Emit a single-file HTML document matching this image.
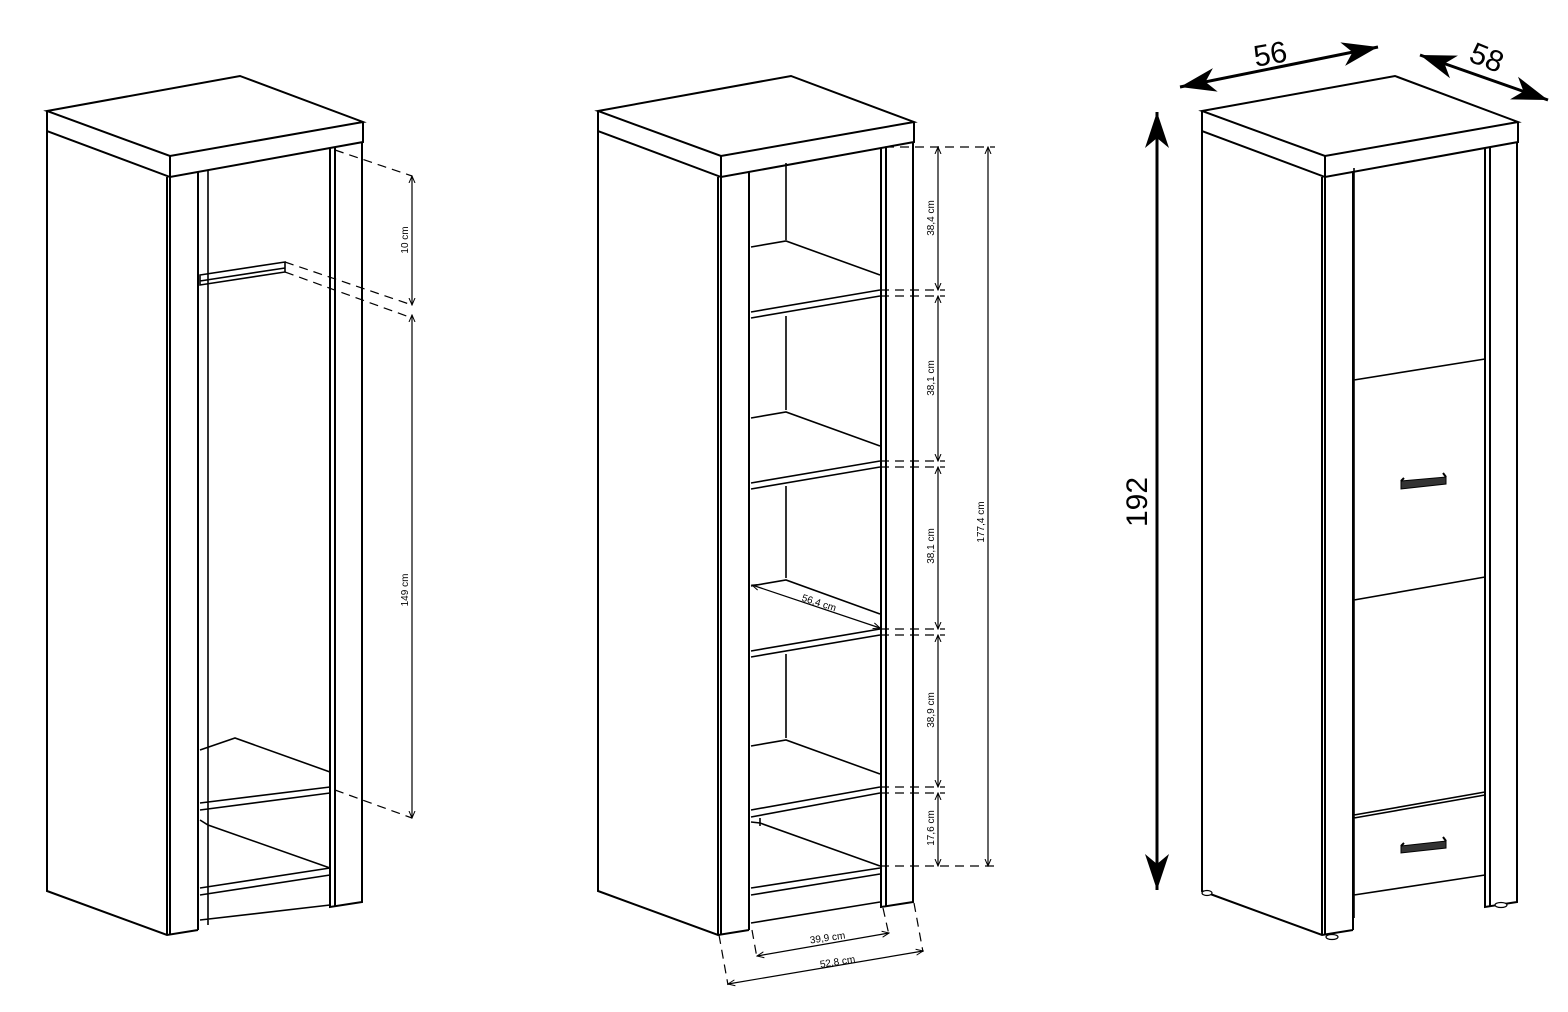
<!DOCTYPE html>
<html><head><style>html,body{margin:0;padding:0;background:#fff}svg{display:block}</style></head>
<body>
<svg width="1568" height="1012" viewBox="0 0 1568 1012" xmlns="http://www.w3.org/2000/svg" font-family="Liberation Sans, sans-serif">
<defs>
<marker id="a" markerWidth="8" markerHeight="8" refX="7" refY="4" orient="auto-start-reverse" markerUnits="userSpaceOnUse"><path d="M0,1 L7,4 L0,7" fill="none" stroke="#000" stroke-width="1"/></marker>
<marker id="B" markerWidth="40" markerHeight="30" refX="36" refY="15" orient="auto-start-reverse" markerUnits="userSpaceOnUse"><path d="M0,3 L36,15 L0,27 L10,15 Z" fill="#000"/></marker>
<g id="box" fill="none" stroke="#000" stroke-width="2">
  <path d="M47,111 L240,76 L363,122 L170,156 Z" fill="#fff"/>
  <path d="M47,111 L47,131 L170,177 L363,142 L363,122 M170,156 L170,177"/>
  <path d="M47,131 L47,891 L167,935 L198,930 M167,177 L167,935 M170,177 L170,935 M198,172 L198,930"/>
  <path d="M330,148 L330,907 L362,902 L362,142 M335,147 L335,906"/>
</g>
</defs>
<g fill="none" stroke="#000" stroke-width="2">
<use href="#box"/>
<path d="M208,170 L208,925 M200,275 L285,262 L285,272 L200,285 Z M200,281 L285,268 M200,750 L235,738 L330,772 M200,803 L330,787 M200,810 L330,793 M200,820 L208,825 L330,868 M200,888 L330,868 M200,895 L330,875 M200,920 L330,905" stroke-width="1.6"/>
<use href="#box" transform="translate(551,0)"/>
<path d="M786,163 L786,240 M786,316 L786,410 M786,486 L786,578 M786,654 L786,738 M760,818 L760,826" stroke-width="1.6"/>
<g stroke-width="1.6">
<path d="M751,247 L786,241 L880,275 M751,312 L880,290 M751,318 L880,296"/>
<path d="M751,418 L786,412 L880,446 M751,483 L880,461 M751,489 L880,467"/>
<path d="M751,586 L786,580 L880,614 M751,651 L880,629 M751,657 L880,635"/>
<path d="M751,746 L786,740 L880,774 M751,810 L880,787 M751,817 L880,793"/>
<path d="M751,822 L760,823 L880,866 M751,888 L880,868 M751,895 L880,874 M751,923 L880,902"/>
</g>
<use href="#box" transform="translate(1155,0)"/>
<path d="M1354,168 L1354,918 M1485,148 L1485,900 M1354,380 L1485,359 M1354,600 L1485,577 M1354,815 L1485,792 M1354,818 L1485,795 M1354,895 L1485,875" stroke-width="1.6"/>
</g>
<g fill="#fff" stroke="#000" stroke-width="1.2">
<ellipse cx="1207" cy="893" rx="5" ry="2.5"/>
<ellipse cx="1501" cy="905" rx="6" ry="2.5"/>
<ellipse cx="1332" cy="937" rx="6" ry="2.5"/>
</g>
<g fill="#333" stroke="#000" stroke-width="1">
<path d="M1401,481 L1446,477 L1446,484 L1401,489 Z"/>
<path d="M1401,846 L1446,841 L1446,848 L1401,853 Z"/>
<path d="M1401,481 L1404,478 M1446,477 L1443,473 M1401,846 L1404,843 M1446,841 L1443,837" fill="none" stroke-width="2"/>
</g>
<g stroke="#000" stroke-width="1.2" fill="none">
<path d="M335,150 L412,176 M285,262 L412,305 M285,272 L412,318 M335,790 L412,818" stroke-dasharray="9,6"/>
<path d="M412,176 L412,305" marker-start="url(#a)" marker-end="url(#a)"/>
<path d="M412,315 L412,818" marker-start="url(#a)" marker-end="url(#a)"/>
<path d="M885,147 L995,147 M880,290 L945,290 M880,296 L945,296 M880,461 L945,461 M880,467 L945,467 M880,629 L945,629 M880,635 L945,635 M880,787 L945,787 M880,793 L945,793 M880,866 L995,866" stroke-dasharray="9,6"/>
<path d="M938,147 L938,290" marker-start="url(#a)" marker-end="url(#a)"/>
<path d="M938,296 L938,461" marker-start="url(#a)" marker-end="url(#a)"/>
<path d="M938,467 L938,629" marker-start="url(#a)" marker-end="url(#a)"/>
<path d="M938,635 L938,787" marker-start="url(#a)" marker-end="url(#a)"/>
<path d="M938,793 L938,866" marker-start="url(#a)" marker-end="url(#a)"/>
<path d="M988,147 L988,866" marker-start="url(#a)" marker-end="url(#a)"/>
<path d="M752,585 L880,628" marker-start="url(#a)" marker-end="url(#a)"/>
<path d="M719,935 L728,985 M752,930 L757,958 M883,908 L889,935 M914,903 L923,952" stroke-dasharray="9,6"/>
<path d="M757,956 L889,933" marker-start="url(#a)" marker-end="url(#a)"/>
<path d="M728,984 L923,951" marker-start="url(#a)" marker-end="url(#a)"/>
</g>
<g font-size="10" fill="#000">
<text transform="translate(408,240) rotate(-90)" text-anchor="middle">10 cm</text>
<text transform="translate(408,590) rotate(-90)" text-anchor="middle">149 cm</text>
<text transform="translate(934,218) rotate(-90)" text-anchor="middle">38,4 cm</text>
<text transform="translate(934,378) rotate(-90)" text-anchor="middle">38,1 cm</text>
<text transform="translate(934,546) rotate(-90)" text-anchor="middle">38,1 cm</text>
<text transform="translate(934,710) rotate(-90)" text-anchor="middle">38,9 cm</text>
<text transform="translate(934,828) rotate(-90)" text-anchor="middle">17,6 cm</text>
<text transform="translate(984,522) rotate(-90)" text-anchor="middle">177,4 cm</text>
<text transform="translate(818,606) rotate(18)" text-anchor="middle">56,4 cm</text>
<text transform="translate(828,941) rotate(-8)" text-anchor="middle">39,9 cm</text>
<text transform="translate(838,965) rotate(-9)" text-anchor="middle">52,8 cm</text>
</g>
<g stroke="#000" stroke-width="3" fill="none">
<path d="M1157,112 L1157,890" marker-start="url(#B)" marker-end="url(#B)"/>
<path d="M1180,87 L1378,47" marker-start="url(#B)" marker-end="url(#B)"/>
<path d="M1420,55 L1548,100" marker-start="url(#B)" marker-end="url(#B)"/>
</g>
<g font-size="30" fill="#000">
<text transform="translate(1147,502) rotate(-90)" text-anchor="middle">192</text>
<text transform="translate(1272,64) rotate(-10)" text-anchor="middle">56</text>
<text transform="translate(1483,67) rotate(22)" text-anchor="middle">58</text>
</g>
</svg>
</body></html>
